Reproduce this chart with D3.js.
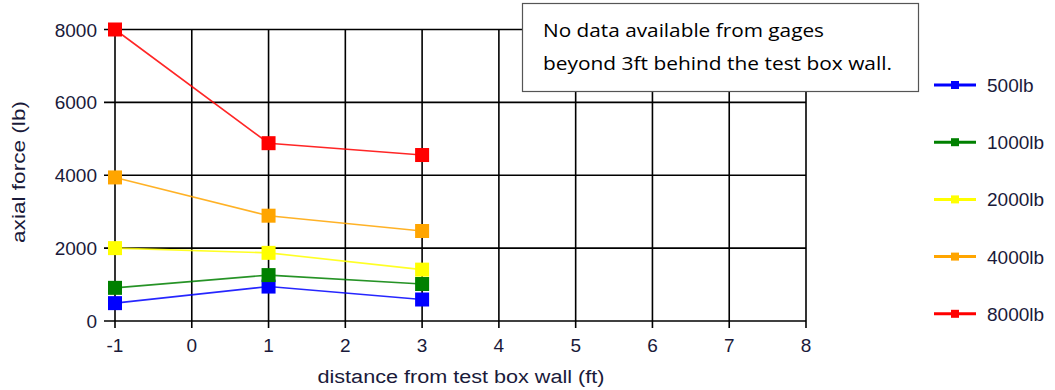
<!DOCTYPE html>
<html><head><meta charset="utf-8">
<script src="https://cdn.jsdelivr.net/npm/d3@7"></script>
<style>body{margin:0;background:#fff}svg{display:block}</style>
</head><body><svg id="c" width="1055" height="390"></svg>
<script>
const xValues = [-1, 1, 3];
const seriesNames = ["500lb", "1000lb", "2000lb", "4000lb", "8000lb"];
const seriesColors = ["#0000FF", "#008000", "#FFFF00", "#FFA500", "#FF0000"];
const s500 = [490, 945, 590];
const s1000 = [910, 1260, 1015];
const s2000 = [2000, 1870, 1410];
const s4000 = [3940, 2890, 2470];
const s8000 = [8000, 4880, 4555];
const xTicks = [-1, 0, 1, 2, 3, 4, 5, 6, 7, 8];
const yTicks = [0, 2000, 4000, 6000, 8000];
const noteLines = ["No data available from gages", "beyond 3ft behind the test box wall."];

const allSeries = [s500, s1000, s2000, s4000, s8000];
const svg = d3.select("#c");
const x = d3.scaleLinear().domain([-1, 8]).range([115, 806]);
const y = d3.scaleLinear().domain([0, 8000]).range([321, 29.5]);
const font = "Liberation Sans, Arial, sans-serif";
const txtCol = "#1a1a3a";

// grid
const g = svg.append("g");
g.selectAll("line.v").data(xTicks).join("line")
  .attr("x1", d => x(d)).attr("x2", d => x(d))
  .attr("y1", y(8000)).attr("y2", y(0) + 7)
  .attr("stroke", "#000").attr("stroke-width", 1.6);
g.selectAll("line.h").data(yTicks).join("line")
  .attr("x1", x(-1) - 11).attr("x2", x(8))
  .attr("y1", d => y(d)).attr("y2", d => y(d))
  .attr("stroke", "#000").attr("stroke-width", 1.6);

// tick labels
svg.append("g").selectAll("text").data(xTicks).join("text")
  .attr("x", d => x(d)).attr("y", 352).attr("text-anchor", "middle")
  .attr("font-family", font).attr("font-size", 19).attr("fill", txtCol)
  .text(d => d);
svg.append("g").selectAll("text").data(yTicks).join("text")
  .attr("x", 97).attr("y", d => y(d) + 7).attr("text-anchor", "end")
  .attr("font-family", font).attr("font-size", 19).attr("fill", txtCol)
  .text(d => d);

// axis titles
svg.append("text").attr("x", 461).attr("y", 383).attr("text-anchor", "middle")
  .attr("font-family", font).attr("font-size", 18).attr("fill", txtCol)
  .attr("textLength", 287).attr("lengthAdjust", "spacingAndGlyphs")
  .text("distance from test box wall (ft)");
svg.append("text").attr("transform", "translate(25,172) rotate(-90)")
  .attr("text-anchor", "middle")
  .attr("font-family", font).attr("font-size", 18).attr("fill", txtCol)
  .attr("textLength", 142).attr("lengthAdjust", "spacingAndGlyphs")
  .text("axial force (lb)");

// series
const line = d3.line().x((d, i) => x(xValues[i])).y(d => y(d));
allSeries.forEach((s, k) => {
  svg.append("path").attr("d", line(s)).attr("fill", "none")
    .attr("stroke", seriesColors[k]).attr("stroke-width", 1.6).attr("opacity", 0.85);
  svg.append("g").selectAll("rect").data(s).join("rect")
    .attr("x", (d, i) => x(xValues[i]) - 7).attr("y", d => y(d) - 7)
    .attr("width", 14).attr("height", 14).attr("fill", seriesColors[k]);
});

// legend
const leg = svg.append("g");
seriesNames.forEach((n, k) => {
  const ly = 85 + k * 57.2;
  leg.append("line").attr("x1", 934).attr("x2", 976).attr("y1", ly).attr("y2", ly)
    .attr("stroke", seriesColors[k]).attr("stroke-width", 3);
  leg.append("rect").attr("x", 951).attr("y", ly - 4).attr("width", 8).attr("height", 8)
    .attr("fill", seriesColors[k]);
  leg.append("text").attr("x", 987).attr("y", ly + 7).attr("font-family", font)
    .attr("font-size", 19).attr("fill", txtCol).text(n);
});

// note box
svg.append("rect").attr("x", 522.5).attr("y", 3.5).attr("width", 396).attr("height", 88)
  .attr("fill", "#fff").attr("stroke", "#555").attr("stroke-width", 1.2);
svg.append("g").selectAll("text").data(noteLines).join("text")
  .attr("x", 543).attr("y", (d, i) => 37 + i * 33)
  .attr("font-family", "Open Sans, sans-serif").attr("font-size", 19).attr("fill", "#000")
  .attr("textLength", (d, i) => i === 0 ? 281 : 349).attr("lengthAdjust", "spacingAndGlyphs")
  .text(d => d);
</script></body></html>
